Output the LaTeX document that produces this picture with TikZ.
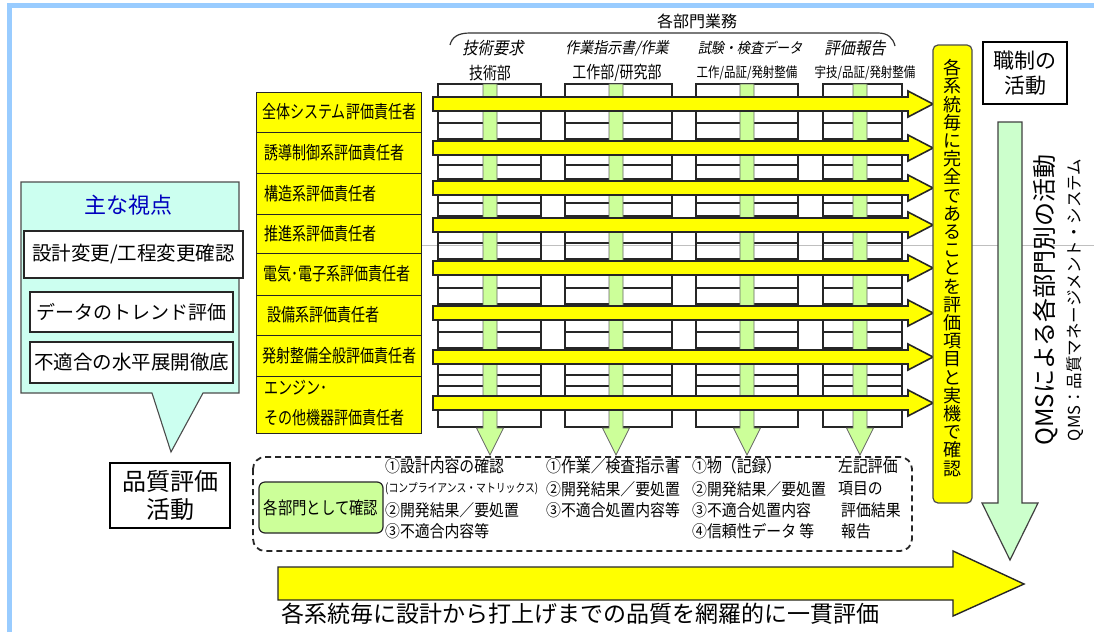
\documentclass[tikz,border=0pt]{standalone}
\usepackage{fontspec}
\setmainfont{Noto Sans CJK JP}
\newfontfamily\jp{Noto Sans CJK JP}
\newfontfamily\jpn[FakeStretch=0.82]{Noto Sans CJK JP}
\newfontfamily\jpc[FakeStretch=0.78]{Noto Sans CJK JP}
\newfontfamily\jpm[FakeStretch=0.9]{Noto Sans CJK JP}
\newfontfamily\jpi[FakeSlant=0.2,FakeStretch=0.9]{Noto Sans CJK JP}
\definecolor{ylw}{RGB}{255,255,0}
\definecolor{grn}{RGB}{204,255,153}
\definecolor{mint}{RGB}{204,255,204}
\definecolor{cyanp}{RGB}{204,255,240}
\definecolor{bord}{RGB}{153,204,255}
\definecolor{ttl}{RGB}{0,0,190}
\tikzset{
  gridline/.style={draw=black!85, line width=1.1pt},
  grnbar/.style={fill=grn, draw=black!60, line width=0.8pt},
  ylwarrow/.style={fill=ylw, draw=black!85, line width=1.6pt, line join=miter},
  ybox/.style={draw=black!85, fill=ylw, line width=1.2pt, minimum width=165pt, anchor=north west, inner sep=0pt},
  ylabel/.style={font=\jpc\fontsize{18}{18}\selectfont, anchor=west, inner sep=0pt, align=left},
  wbox/.style={draw=black!85, fill=white, line width=1.1pt, inner sep=0pt},
  framebox/.style={draw=black, fill=white, line width=1.4pt, inner sep=0pt, align=center},
  hdr/.style={font=\jpi\fontsize{17}{17}\selectfont, inner sep=0pt},
  dept/.style={inner sep=0pt},
  dtext/.style={font=\jpm\fontsize{16.5}{17}\selectfont, anchor=west, inner sep=0pt},
}
\newcommand{\grnarrow}[1]{%
  \path[grnbar] (#1-7,84) -- (#1+7,84) -- (#1+7,428) -- (#1+13.5,428) -- (#1,455) -- (#1-13.5,428) -- (#1-7,428) -- cycle;}
\newcommand{\ylwright}[1]{%
  \path[ylwarrow] (433,#1-7) -- (908,#1-7) -- (908,#1-13) -- (933,#1) -- (908,#1+13) -- (908,#1+7) -- (433,#1+7) -- cycle;}
\begin{document}
\begin{tikzpicture}[x=1pt,y=-1pt]
\path[use as bounding box, fill=white] (0,0) rectangle (1094,632);
\draw[bord, line width=5pt] (9.5,632) -- (9.5,5.5) -- (1094,5.5);
\draw[black!25, line width=0.6pt] (420,245) -- (1094,245);

% header
\node[inner sep=0pt, font=\jp\fontsize{16}{16}\selectfont] (dept-all) at (697,21) {各部門業務};
\draw[black!80, line width=1.2pt] (450,45) .. controls (452,37) and (458,33) .. (470,33) -- (878,33) .. controls (888,33) and (893,38) .. (895,46);
\node[hdr] (h1) at (493,48) {技術要求};
\node[hdr, font=\jpi\fontsize{15.5}{15.5}\selectfont] (h2) at (617,48) {作業指示書/作業};
\node[hdr, font=\jpi\fontsize{14.5}{14.5}\selectfont] (h3) at (750,48) {試験・検査データ};
\node[hdr] (h4) at (855,48) {評価報告};
\node[dept, font=\jpn\fontsize{17}{17}\selectfont] (d1) at (490,73) {技術部};
\node[dept, font=\jpn\fontsize{17}{17}\selectfont] (d2) at (617,73) {工作部/研究部};
\node[dept, font=\jpn\fontsize{14}{14}\selectfont] (d3) at (747,73) {工作/品証/発射整備};
\node[dept, font=\jpn\fontsize{14}{14}\selectfont] (d4) at (865,73) {宇技/品証/発射整備};

% grid
\foreach \l/\r in {438/541,565/672,696/798,823/902} {
  \draw[gridline] (\l,84) rectangle (\r,427);
  \foreach \yy in {123,139,165,179,203,216,243,259,288,304,332,348,375,386}
    \draw[gridline] (\l,\yy) -- (\r,\yy);
}
% green down arrows
\foreach \c in {490,616,747,860} {\grnarrow{\c}}
% yellow right arrows
\foreach \yc in {104,148,188,225,268,313,357,403} {\ylwright{\yc}}

% left yellow boxes
\node[ybox, minimum height=40pt] (r1) at (256,92) {};
\node[ybox, minimum height=41pt] (r2) at (256,132) {};
\node[ybox, minimum height=41pt] (r3) at (256,173) {};
\node[ybox, minimum height=39pt] (r4) at (256,214) {};
\node[ybox, minimum height=42pt] (r5) at (256,253) {};
\node[ybox, minimum height=40pt] (r6) at (256,295) {};
\node[ybox, minimum height=41pt] (r7) at (256,335) {};
\node[ybox, minimum height=57pt] (r8) at (256,376) {};
\node[ylabel] (t1) at (262,112) {全体システム評価責任者};
\node[ylabel] (t2) at (264,152.5) {誘導制御系評価責任者};
\node[ylabel] (t3) at (264,193.5) {構造系評価責任者};
\node[ylabel] (t4) at (264,233.5) {推進系評価責任者};
\node[ylabel] (t5) at (263,274) {電気･電子系評価責任者};
\node[ylabel] (t6) at (267,315) {設備系評価責任者};
\node[ylabel] (t7) at (262,355.5) {発射整備全般評価責任者};
\node[ylabel, font=\jpc\fontsize{18}{30}\selectfont] (t8) at (264,403) {エンジン･\\その他機器評価責任者};

% vertical yellow box
\node[draw=black!70, fill=ylw, rounded corners=5pt, line width=1.2pt, minimum width=39pt, minimum height=458pt, inner sep=0pt] (vbox) at (952.5,274) {};
\node[inner sep=0pt, align=center, font=\jp\fontsize{18}{18.2}\selectfont] (vtext) at (952.5,268)
  {各\\系\\統\\毎\\に\\完\\全\\で\\あ\\る\\こ\\と\\を\\評\\価\\項\\目\\と\\実\\機\\で\\確\\認};

% right frame box + green arrow + rotated texts
\node[framebox, minimum width=84pt, minimum height=62pt, font=\jp\fontsize{21}{25}\selectfont] (shoku) at (1025,73) {職制の\\活動};
\path[fill=mint, draw=black!75, line width=1.2pt] (998,122) -- (1022,122) -- (1022,503) -- (1038,503) -- (1010,560) -- (982,503) -- (998,503) -- cycle;
\node[inner sep=0pt, rotate=90, font=\jp\fontsize{24}{24}\selectfont] (qms) at (1046,300) {QMSによる各部門別の活動};
\node[inner sep=0pt, rotate=90, font=\jp\fontsize{16.5}{16.5}\selectfont] (qmsdef) at (1075,300) {QMS：品質マネージメント・システム};

% left panel
\path[fill=cyanp, draw=black!70, line width=1.1pt] (21,182) -- (239,182) -- (239,393) -- (203,393) -- (171,452) -- (152,393) -- (21,393) -- cycle;
\node[inner sep=0pt, text=ttl, font=\jp\fontsize{22}{22}\selectfont] (view) at (128,205) {主な視点};
\node[wbox, minimum width=219pt, minimum height=47pt, font=\jp\fontsize{19.5}{20}\selectfont] (v1) at (133.5,254.5) {設計変更/工程変更確認};
\node[wbox, minimum width=203pt, minimum height=40pt, font=\jp\fontsize{19}{20}\selectfont] (v2) at (131.5,312) {データのトレンド評価};
\node[wbox, minimum width=203pt, minimum height=41pt, font=\jp\fontsize{19.5}{20}\selectfont] (v3) at (131.5,362.5) {不適合の水平展開徹底};
\node[framebox, minimum width=120pt, minimum height=65pt, font=\jp\fontsize{24}{28}\selectfont] (hinshitsu) at (170,495.5) {品質評価\\活動};

% dashed box
\draw[black!85, line width=1.8pt, dash pattern=on 6pt off 4pt, rounded corners=12pt] (253,457) rectangle (912,551);
\node[draw=black!85, fill=grn, rounded corners=6pt, line width=1.2pt, minimum width=124pt, minimum height=51pt, inner sep=0pt, font=\jpn\fontsize{17.5}{17.5}\selectfont] (kakubu) at (321,507.5) {各部門として確認};
\node[dtext] (a1) at (385,466) {①設計内容の確認};
\node[dtext, font=\jpn\fontsize{12}{12}\selectfont] (a2) at (385,489) {(コンプライアンス・マトリックス)};
\node[dtext] (a3) at (385,510) {②開発結果／要処置};
\node[dtext] (a4) at (385,531) {③不適合内容等};
\node[dtext] (b1) at (546,466) {①作業／検査指示書};
\node[dtext] (b2) at (546,489) {②開発結果／要処置};
\node[dtext] (b3) at (546,510) {③不適合処置内容等};
\node[dtext] (c1) at (692,466) {①物（記録）};
\node[dtext] (c2) at (692,489) {②開発結果／要処置};
\node[dtext] (c3) at (692,510) {③不適合処置内容};
\node[dtext] (c4) at (692,531) {④信頼性データ 等};
\node[dtext] (e1) at (838,466) {左記評価};
\node[dtext] (e2) at (838,489) {項目の};
\node[dtext] (e3) at (841,510) {評価結果};
\node[dtext] (e4) at (841,531) {報告};

% bottom arrow
\path[ylwarrow, line width=1.4pt] (278,567) -- (953,567) -- (953,551) -- (1024,584) -- (953,616) -- (953,600) -- (278,600) -- cycle;
\node[inner sep=0pt, font=\jp\fontsize{23}{23}\selectfont] (summary) at (580,614) {各系統毎に設計から打上げまでの品質を網羅的に一貫評価};
\end{tikzpicture}
\end{document}
